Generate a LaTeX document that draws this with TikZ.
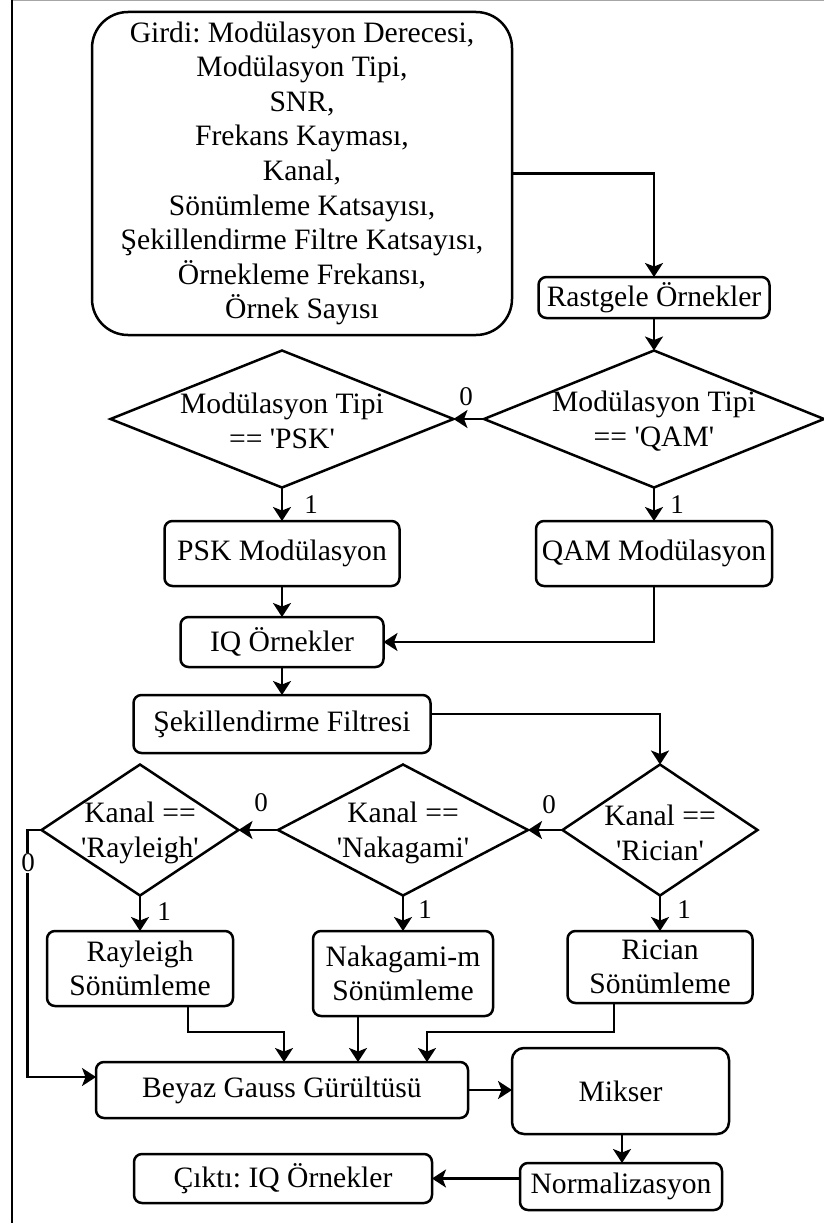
\documentclass[tikz,border=0pt]{standalone}
\usepackage{fontspec}
\setmainfont{Liberation Serif}[Ligatures=TeXOff]
\usetikzlibrary{shapes.geometric,arrows.meta,calc}

\begin{document}
\frenchspacing
\begin{tikzpicture}[x=1pt,y=-1pt,
  every node/.style={inner sep=0pt, outer sep=0pt},
  txt/.style={font=\fontsize{29.6}{34.6}\selectfont, align=center},
  box/.style={txt, draw, line width=2.5pt, rounded corners=8pt},
  dia/.style={draw, diamond, line width=2.5pt},
  lbl/.style={font=\fontsize{27}{28}\selectfont},
  conn/.style={line width=2.3pt, -{Stealth[length=14pt,width=18pt,inset=3.5pt]}},
]
\useasboundingbox (0,0) rectangle (824,1223);

% frame
\draw[gray!70, line width=1.5pt] (12,0.75) -- (824,0.75);
\draw[line width=2.5pt] (12,0) -- (12,1223);

% input and sampling
\node[box, rounded corners=36pt, minimum width=420pt, minimum height=323pt] (inp) at (302,173.5)
  {Girdi: Modülasyon Derecesi,\\Modülasyon Tipi,\\SNR,\\Frekans Kayması,\\Kanal,\\Sönümleme Katsayısı,\\Şekillendirme Filtre Katsayısı,\\Örnekleme Frekansı,\\Örnek Sayısı};
\node[box, minimum width=231pt, minimum height=41pt] (rast) at (654,297.5) {Rastgele Örnekler};

% modulation decisions
\node[dia, minimum width=340pt, minimum height=137pt] (qamd) at (654,419) {};
\node[txt] (qamt) at (654,421) {Modülasyon Tipi\\== 'QAM'};
\node[dia, minimum width=343pt, minimum height=137pt] (pskd) at (282,419) {};
\node[txt] (pskt) at (282,421) {Modülasyon Tipi\\== 'PSK'};
\node[box, minimum width=235pt, minimum height=65pt] (pskb) at (282,553.5) {PSK Modülasyon};
\node[box, minimum width=236pt, minimum height=65pt] (qamb) at (654,553.5) {QAM Modülasyon};
\node[box, minimum width=203pt, minimum height=50pt] (iq) at (282,642) {IQ Örnekler};
\node[box, minimum width=297pt, minimum height=58pt] (sek) at (282,724) {Şekillendirme Filtresi};

% channel decisions
\node[dia, minimum width=195pt, minimum height=131pt] (ricd) at (660,830) {};
\node[txt] (rict) at (660,833) {Kanal ==\\'Rician'};
\node[dia, minimum width=250pt, minimum height=131pt] (nakd) at (403,830) {};
\node[txt] (nakt) at (403,833) {Kanal ==\\'Nakagami'};
\node[dia, minimum width=197pt, minimum height=131pt] (rayd) at (140,830) {};
\node[txt] (rayt) at (140,833) {Kanal ==\\'Rayleigh'};
\node[box, minimum width=186pt, minimum height=75pt] (rayb) at (140,968.5) {Rayleigh\\Sönümleme};
\node[box, minimum width=180pt, minimum height=85pt] (nakb) at (403,973.5) {Nakagami-m\\Sönümleme};
\node[box, minimum width=185pt, minimum height=72pt] (ricb) at (660,967) {Rician\\Sönümleme};

% noise, mixing, output
\node[box, minimum width=372pt, minimum height=56pt] (bey) at (282,1090) {Beyaz Gauss Gürültüsü};
\node[box, rounded corners=12pt, minimum width=217pt, minimum height=86pt] (mik) at (620.5,1091) {Mikser};
\node[box, minimum width=202pt, minimum height=47pt] (norm) at (621,1186.5) {Normalizasyon};
\node[box, minimum width=298pt, minimum height=49pt] (cikti) at (283,1178.5) {Çıktı: IQ Örnekler};

% connectors
\draw[conn] (inp.east) -| (rast.north);
\draw[conn] (rast.south) -- (qamd.north);
\draw[conn] (qamd.west) -- (pskd.east);
\node[lbl] (l0a) at (466,397) {0};
\draw[conn] (pskd.south) -- (pskb.north);
\node[lbl] (l1a) at (311,505) {1};
\draw[conn] (qamd.south) -- (qamb.north);
\node[lbl] (l1b) at (677,505) {1};
\draw[conn] (pskb.south) -- (iq.north);
\draw[conn] (qamb.south) |- (iq.east);
\draw[conn] (iq.south) -- (sek.north);
\draw[conn] ([yshift=10pt]sek.east) -| (ricd.north);

\draw[conn] (ricd.west) -- (nakd.east);
\node[lbl] (l0b) at (549,805) {0};
\draw[conn] (nakd.west) -- (rayd.east);
\node[lbl] (l0c) at (261,803) {0};
\draw[conn] (rayd.west) -- ++(-14,0) |- ([yshift=13pt]bey.west);
\node[lbl, fill=white, inner sep=1pt] (l0d) at (28,863) {0};

\draw[conn] (rayd.south) -- (rayb.north);
\node[lbl] (l1c) at (164,912) {1};
\draw[conn] (nakd.south) -- (nakb.north);
\node[lbl] (l1d) at (425,910) {1};
\draw[conn] (ricd.south) -- (ricb.north);
\node[lbl] (l1e) at (684,910) {1};

\draw[conn] ([xshift=48pt]rayb.south) -- ++(0,26) -| ([xshift=2pt]bey.north);
\draw[conn] ([xshift=-45pt]nakb.south) coordinate (nk) -- (nk |- bey.north);
\draw[conn] ([xshift=-46pt]ricb.south) -- ++(0,29) -| ([xshift=145pt]bey.north);

\draw[conn] (bey.east) -- (bey.east -| mik.west);
\draw[conn] ([xshift=1.5pt]mik.south) coordinate (mk) -- (mk |- norm.north);
\draw[conn] (cikti.east -| norm.west) -- (cikti.east);
\end{tikzpicture}
\end{document}
